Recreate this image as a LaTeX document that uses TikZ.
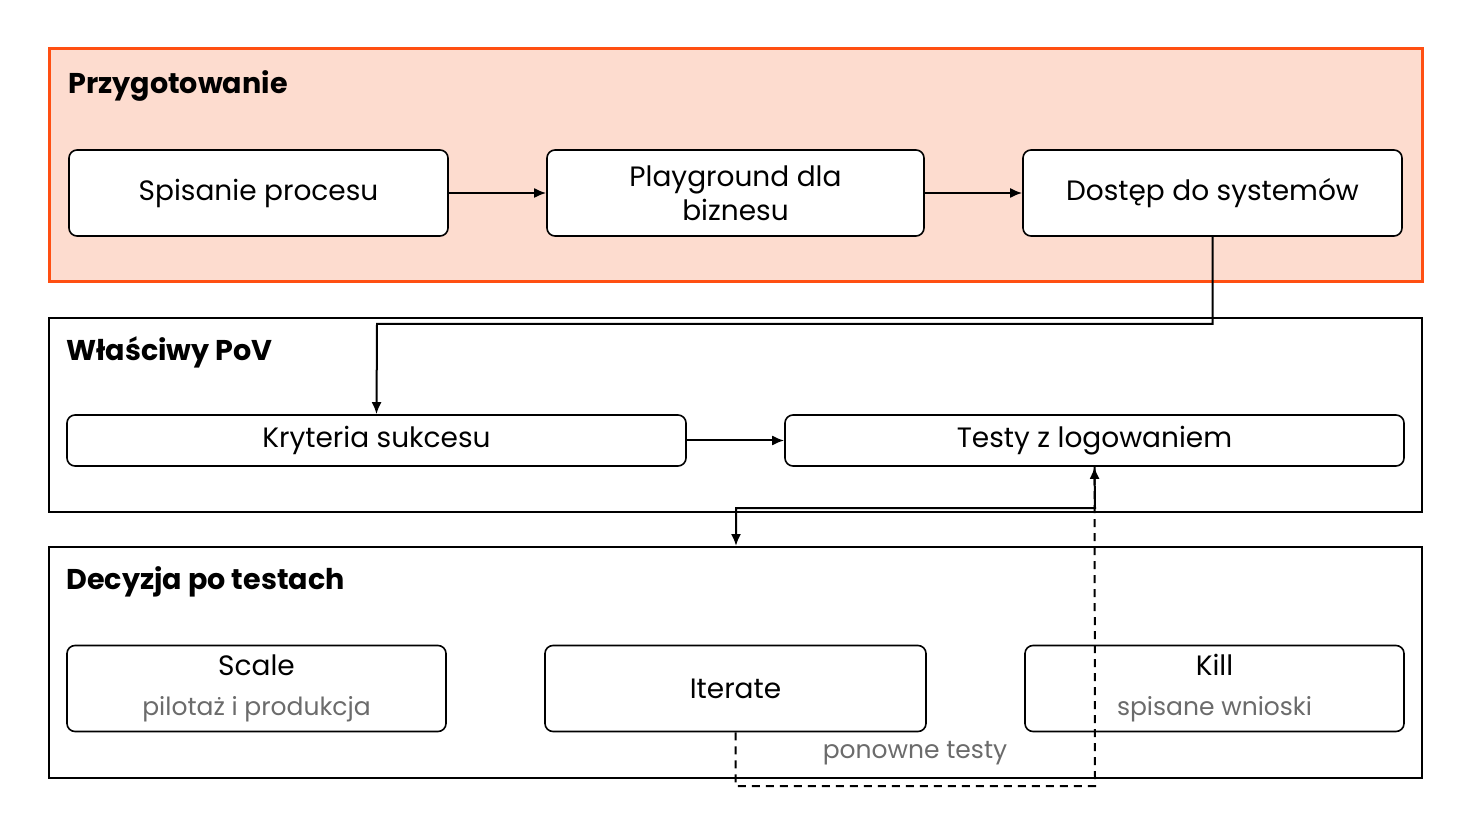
\documentclass[tikz,border=0pt]{standalone}
\usepackage{fontspec}
\setmainfont{Poppins}
\usetikzlibrary{arrows.meta}
\definecolor{orng}{HTML}{FF4F12}
\definecolor{salmon}{HTML}{FDDCCF}
\definecolor{txtgray}{HTML}{6B6B6B}
\tikzset{
  grp/.style={rectangle, draw=black, line width=0.7pt, fill=white, minimum width=686.5pt, inner sep=0pt},
  ttl/.style={anchor=west, font=\fontsize{14.3}{16}\selectfont\bfseries, inner sep=0pt},
  box/.style={rectangle, rounded corners=4pt, draw=black, line width=0.8pt, fill=white, align=center, font=\fontsize{14}{17}\selectfont, inner sep=0pt, minimum height=43pt},
  wide/.style={box, minimum width=309.5pt, minimum height=25.5pt},
  sub/.style={font=\fontsize{12.5}{15}\selectfont, text=txtgray},
  arr/.style={-{Latex[length=6pt,width=5pt]}, line width=1pt},
}
\begin{document}
\begin{tikzpicture}[x=0.5pt,y=-0.5pt]
        \useasboundingbox (0,0) rectangle (1472,828);
        % groups
        \node[grp, draw=orng, line width=1.5pt, fill=salmon, minimum height=116.5pt] (prep) at (735.5,165.5) {};
        \node[grp, minimum height=97pt] (pov) at (735.5,415) {};
        \node[grp, minimum height=115.5pt] (dec) at (735.5,662.5) {};
        \node[ttl] (prepn) at (68,86) {Przygotowanie};
        \node[ttl] (povn) at (66,352) {Właściwy PoV};
        \node[ttl] (decn) at (66,582) {Decyzja po testach};
        % steps
        \node[box, minimum width=189.5pt] (spis) at (258.5,193) {Spisanie procesu};
        \node[box, minimum width=188.5pt] (play) at (735.5,193) {Playground dla\\biznesu};
        \node[box, minimum width=189.5pt] (dost) at (1212.5,193) {Dostęp do systemów};
        \node[wide] (kryt) at (376.5,440.5) {Kryteria sukcesu};
        \node[wide] (test) at (1094.5,440.5) {Testy z logowaniem};
        \node[box, minimum width=189.5pt] (scale) at (256.5,688.5) {Scale\\[3pt]{\color{txtgray}\fontsize{12.5}{17}\selectfont pilotaż i produkcja}};
        \node[box, minimum width=190.5pt] (iter) at (735.5,688.5) {Iterate};
        \node[box, minimum width=189.5pt] (kill) at (1214.5,688.5) {Kill\\[3pt]{\color{txtgray}\fontsize{12.5}{17}\selectfont spisane wnioski}};
        \coordinate (decin) at (736,546);
        \draw[arr] (spis) -- (play);
        \draw[arr] (play) -- (dost);
        \draw[arr] (dost.south) |- (377,324) -- (kryt.north);
        \draw[arr] (kryt) -- (test);
        \draw[arr] (test.south) -- (1095,508) -| (decin);
        \draw[arr, dashed, dash pattern=on 4pt off 3pt] (iter.south) |- (1095,786) -- (test.south);
        \node[sub] (pon) at (915,753) {ponowne testy};
    \end{tikzpicture}
\end{document}
